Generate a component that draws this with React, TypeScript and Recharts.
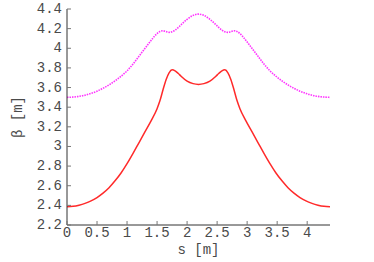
import React from 'react';
import { LineChart, Line, XAxis, YAxis } from 'recharts';

const sValues = [
  0, 0.1, 0.2, 0.3, 0.4, 0.5, 0.6, 0.7, 0.8, 0.9, 1.0, 1.1, 1.2, 1.3, 1.4, 1.5,
  1.55, 1.6, 1.65, 1.7, 1.75, 1.8, 1.85, 1.9, 2.0, 2.1, 2.19,
  2.28, 2.38, 2.48, 2.53, 2.58, 2.63, 2.68, 2.73, 2.78, 2.83, 2.88,
  2.98, 3.08, 3.18, 3.28, 3.38, 3.48, 3.58, 3.68, 3.78, 3.88, 3.98, 4.08, 4.18, 4.28, 4.38,
];

const betaRed = [
  2.385, 2.39, 2.402, 2.42, 2.445, 2.48, 2.525, 2.58, 2.65, 2.73, 2.825, 2.93, 3.04, 3.15, 3.26, 3.385,
  3.47, 3.58, 3.68, 3.75, 3.78, 3.77, 3.745, 3.715, 3.665, 3.64, 3.632,
  3.64, 3.665, 3.715, 3.745, 3.77, 3.78, 3.75, 3.68, 3.58, 3.47, 3.385,
  3.26, 3.15, 3.04, 2.93, 2.825, 2.73, 2.65, 2.58, 2.525, 2.48, 2.445, 2.42, 2.402, 2.39, 2.385,
];

const betaMagenta = [
  3.5, 3.503, 3.51, 3.522, 3.54, 3.563, 3.592, 3.627, 3.668, 3.715, 3.77, 3.84, 3.92, 4.0, 4.08, 4.15,
  4.172, 4.178, 4.17, 4.162, 4.168, 4.185, 4.21, 4.24, 4.295, 4.335, 4.348,
  4.335, 4.295, 4.24, 4.21, 4.185, 4.168, 4.162, 4.17, 4.178, 4.172, 4.15,
  4.08, 4.0, 3.92, 3.84, 3.77, 3.715, 3.668, 3.627, 3.592, 3.563, 3.54, 3.522, 3.51, 3.503, 3.5,
];

const xTicks = [0, 0.5, 1, 1.5, 2, 2.5, 3, 3.5, 4];
const xTickLabels = ['0', '0.5', '1', '1.5', '2', '2.5', '3', '3.5', '4'];
const yTicks = [2.2, 2.4, 2.6, 2.8, 3, 3.2, 3.4, 3.6, 3.8, 4, 4.2, 4.4];
const yTickLabels = ['2.2', '2.4', '2.6', '2.8', '3', '3.2', '3.4', '3.6', '3.8', '4', '4.2', '4.4'];

const data = sValues.map((s, i) => ({ s, red: betaRed[i], magenta: betaMagenta[i] }));

const FONT = '"Liberation Mono", monospace';
const TEXT_COLOR = '#4a4a4a';
const TICK_COLOR = '#777';
const FRAME = '#333';
const TL = 4;

const BottomTick = (props: any) => {
  const { x, y, index } = props;
  return (
    <g>
      <line x1={x} x2={x} y1={y} y2={y - TL} stroke={TICK_COLOR} />
      <text x={x} y={y + 8} textAnchor="middle" dominantBaseline="central"
        fontFamily={FONT} fontSize={14} fill={TEXT_COLOR}>{xTickLabels[index]}</text>
    </g>
  );
};

const TopTick = (props: any) => {
  const { x, y } = props;
  return <line x1={x} x2={x} y1={y} y2={y + TL} stroke={TICK_COLOR} />;
};

const LeftTick = (props: any) => {
  const { x, y, index } = props;
  return (
    <g>
      <line x1={x} x2={x + TL} y1={y} y2={y} stroke={TICK_COLOR} />
      <text x={x - 5} y={y} textAnchor="end" dominantBaseline="central"
        fontFamily={FONT} fontSize={14} fill={TEXT_COLOR}>{yTickLabels[index]}</text>
    </g>
  );
};

const RightTick = (props: any) => {
  const { x, y } = props;
  return <line x1={x} x2={x - TL} y1={y} y2={y} stroke={TICK_COLOR} />;
};

export default function App() {
  return (
    <div style={{ position: 'absolute', top: 0, left: 0, width: 374, height: 262 }}>
      <LineChart width={374} height={262} data={data}
        margin={{ top: 9, right: 44, left: 0, bottom: 0 }}>
        <XAxis xAxisId="b" dataKey="s" type="number" domain={[0, 4.38]} ticks={xTicks}
          allowDataOverflow interval={0} height={37} tickSize={0} tickMargin={0}
          tickLine={false} axisLine={{ stroke: FRAME }} tick={<BottomTick />}
          label={{
            content: (p: any) => {
              const vb = p.viewBox;
              return (
                <text x={vb.x + vb.width / 2} y={vb.y + 25} textAnchor="middle" dominantBaseline="central"
                  fontFamily={FONT} fontSize={14} fill={TEXT_COLOR}>s [m]</text>
              );
            },
          }} />
        <XAxis xAxisId="t" orientation="top" dataKey="s" type="number" domain={[0, 4.38]} ticks={xTicks}
          allowDataOverflow interval={0} height={0} tickSize={0} tickMargin={0}
          tickLine={false} axisLine={{ stroke: FRAME }} tick={<TopTick />} />
        <YAxis yAxisId="l" type="number" domain={[2.2, 4.4]} ticks={yTicks} allowDataOverflow
          interval={0} width={67} tickSize={0} tickMargin={0} tickLine={false}
          axisLine={{ stroke: FRAME }} tick={<LeftTick />}
          label={{
            content: (p: any) => {
              const vb = p.viewBox;
              const cx = vb.x + 18;
              const cy = vb.y + vb.height / 2;
              return (
                <text x={cx} y={cy} transform={`rotate(-90 ${cx} ${cy})`} textAnchor="middle"
                  dominantBaseline="central" fontFamily={FONT} fontSize={14} fill={TEXT_COLOR}>β [m]</text>
              );
            },
          }} />
        <YAxis yAxisId="r" orientation="right" type="number" domain={[2.2, 4.4]} ticks={yTicks}
          allowDataOverflow interval={0} width={0} tickSize={0} tickMargin={0} tickLine={false}
          axisLine={{ stroke: FRAME }} tick={<RightTick />} />
        <Line xAxisId="b" yAxisId="l" type="monotone" dataKey="magenta" stroke="#ff33ff"
          strokeWidth={1.6} strokeDasharray="1.5 1" dot={false} isAnimationActive={false} />
        <Line xAxisId="b" yAxisId="l" type="monotone" dataKey="red" stroke="#ff2a2a"
          strokeWidth={1.5} dot={false} isAnimationActive={false} />
      </LineChart>
    </div>
  );
}
